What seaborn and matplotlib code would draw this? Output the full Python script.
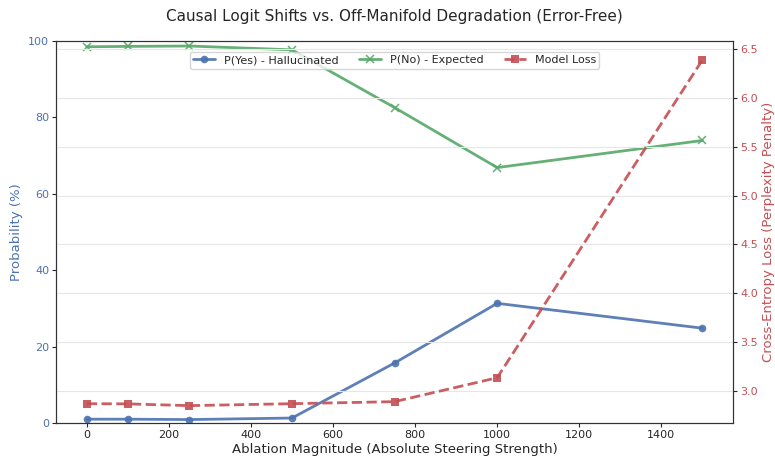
import numpy as np
import pandas as pd
import seaborn as sns
import matplotlib.pyplot as plt

# values
magnitudes = [0, 100, 250, 500, 750, 1000, 1500]
p_yes = [1.0, 1.0, 0.9, 1.3, 15.7, 31.3, 24.8]
p_no = [98.4, 98.5, 98.6, 97.6, 82.5, 66.8, 73.9]
model_loss = [2.867, 2.865, 2.847, 2.867, 2.888, 3.133, 6.39]

df = pd.DataFrame({
    'magnitude': magnitudes,
    'p_yes': p_yes,
    'p_no': p_no,
    'loss': model_loss,
})

sns.set_style("ticks")
plt.rcParams['font.family'] = ['DejaVu Sans']

blue = '#4c72b0'
green = '#55a868'
red = '#c44e52'

fig, ax1 = plt.subplots(figsize=(7.75, 4.62), dpi=100)
fig.subplots_adjust(left=0.0723, right=0.946, top=0.912, bottom=0.0844)

sns.lineplot(data=df, x='magnitude', y='p_yes', ax=ax1, color=blue, marker='o',
             markersize=5.5, markeredgewidth=0, linewidth=2, alpha=0.9,
             label='P(Yes) - Hallucinated')
sns.lineplot(data=df, x='magnitude', y='p_no', ax=ax1, color=green, marker='x',
             markersize=5.5, markeredgewidth=1.1, markeredgecolor=green, linewidth=2,
             alpha=0.9, label='P(No) - Expected')
ax1.set_ylim(0, 100)
ax1.set_xlabel('Ablation Magnitude (Absolute Steering Strength)', fontsize=9.5, labelpad=2)
ax1.set_ylabel('Probability (%)', color=blue, fontsize=9.5, labelpad=4)
ax1.tick_params(axis='y', labelcolor=blue, labelsize=8, length=3, pad=2)
ax1.tick_params(axis='x', labelsize=8, length=3, pad=2)
ax1.grid(False)

ax2 = ax1.twinx()
sns.lineplot(data=df, x='magnitude', y='loss', ax=ax2, color=red, marker='s',
             markersize=5.5, markeredgewidth=0, linewidth=2, linestyle='--', alpha=0.9,
             label='Model Loss')
ax2.set_ylim(2.669, 6.588)
ax2.set_ylabel('Cross-Entropy Loss (Perplexity Penalty)', color=red, fontsize=9.5, labelpad=3)
ax2.tick_params(axis='y', labelcolor=red, labelsize=8, length=3, pad=2)
ax2.grid(True, axis='y', color='#e6e6e6', linewidth=0.8)

for ax in (ax1, ax2):
    for s in ax.spines.values():
        s.set_color('#333333')
        s.set_visible(True)

h1, l1 = ax1.get_legend_handles_labels()
h2, l2 = ax2.get_legend_handles_labels()
ax1.get_legend().remove()
ax2.get_legend().remove()
ax2.legend(h1 + h2, l1 + l2, loc='upper center', ncol=3, fontsize=8,
           bbox_to_anchor=(0.5, 0.985), frameon=True, borderpad=0.3,
           columnspacing=1.8)

ax1.set_title('Causal Logit Shifts vs. Off-Manifold Degradation (Error-Free)',
              fontsize=11, pad=14)

fig.savefig('out.png', dpi=100)
